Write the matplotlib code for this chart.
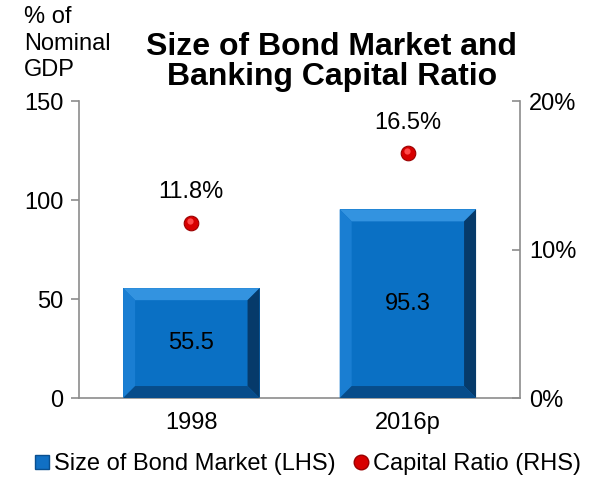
import matplotlib
matplotlib.use("Agg")
import matplotlib.pyplot as plt
from matplotlib.patches import Polygon
from matplotlib.lines import Line2D
import numpy as np

plt.rcParams['font.family'] = ['Liberation Sans', 'DejaVu Sans']

categories = ["1998", "2016p"]
bond_market = [55.5, 95.3]          # % of nominal GDP (LHS)
capital_ratio = [11.8, 16.5]        # % (RHS)
left_ticks = [0, 50, 100, 150]
right_ticks = [0, 10, 20]

W, H = 601, 479
fig = plt.figure(figsize=(W / 100, H / 100), dpi=100)
ax = fig.add_axes([0.131, 0.169, 0.735, 0.620])
ax2 = ax.twinx()

x = np.arange(len(categories))
bars = ax.bar(x, bond_market, width=0.63, color="#0a70c4", zorder=2)

ax.set_xlim(-0.52, 1.52)
ax.set_ylim(0, 150)
ax2.set_ylim(0, 20)
ax.set_yticks(left_ticks)
ax2.set_yticks(right_ticks)
ax2.set_yticklabels([f"{t}%" for t in right_ticks])
ax.set_xticks(x)
ax.set_xticklabels(categories)

fs = 17
spine_col = "#8c8c8c"
for a in (ax, ax2):
    for s in a.spines.values():
        s.set_color(spine_col)
        s.set_linewidth(1.2)
    a.spines['top'].set_visible(False)
ax.spines['right'].set_visible(False)
ax2.spines['left'].set_visible(False)
ax2.spines['bottom'].set_visible(False)
ax.tick_params(axis='y', direction='out', length=6, width=1.2, color=spine_col, labelsize=fs, pad=5)
ax.tick_params(axis='x', length=0, labelsize=fs, pad=10)
ax2.tick_params(axis='y', direction='in', length=6, width=1.2, color=spine_col, labelsize=fs, pad=6)

# bevelled edges on each bar, built in pixel space from the bar extents
fig.canvas.draw()
bev = 12
for b in bars:
    (x0, y0), (x1, y1) = ax.transData.transform([(b.get_x(), 0), (b.get_x() + b.get_width(), b.get_height())])
    inner = [(x0 + bev, y0 + bev), (x1 - bev, y0 + bev), (x1 - bev, y1 - bev), (x0 + bev, y1 - bev)]
    outer = [(x0, y0), (x1, y0), (x1, y1), (x0, y1)]
    sides = [
        ([outer[3], outer[2], inner[2], inner[3]], "#3393e0"),   # top
        ([outer[0], outer[3], inner[3], inner[0]], "#1a7ed2"),   # left
        ([outer[1], outer[2], inner[2], inner[1]], "#063a6a"),   # right
        ([outer[0], outer[1], inner[1], inner[0]], "#074c8a"),   # bottom
    ]
    for pts, c in sides:
        ax.add_patch(Polygon(pts, closed=True, facecolor=c, edgecolor="none",
                             transform=None, zorder=3))
    ax.text(b.get_x() + b.get_width() / 2, b.get_height() / 2, f"{b.get_height():.1f}",
            ha="center", va="center", fontsize=fs, color="black", zorder=5)

# capital ratio as shaded red spheres
ax2.plot(x, capital_ratio, linestyle="none", marker="o", markersize=10.5,
         markerfacecolor="#d80000", markeredgecolor="#9a0000", markeredgewidth=0.8, zorder=4)
ax2.plot(x - 0.005, np.array(capital_ratio) + 0.12, linestyle="none", marker="o", markersize=4.5,
         markerfacecolor="#ff4a4a", markeredgecolor="none", zorder=5)
for xi, v in zip(x, capital_ratio):
    ax2.annotate(f"{v}%", (xi, v), xytext=(0, 14), textcoords="offset points",
                 ha="center", va="bottom", fontsize=fs)

fig.text(0.552, 0.934, "Size of Bond Market and\nBanking Capital Ratio", ha="center", va="top",
         fontsize=23, fontweight="bold", linespacing=1.0)
fig.text(0.040, 0.988, "% of\nNominal\nGDP", ha="left", va="top", fontsize=fs, linespacing=1.28)

handles = [
    Line2D([], [], linestyle="none", marker="s", markersize=9.5, markerfacecolor="#1170c4",
           markeredgecolor="#0a4f8f"),
    Line2D([], [], linestyle="none", marker="o", markersize=10.5, markerfacecolor="#d80000",
           markeredgecolor="#9a0000"),
]
fig.legend(handles, ["Size of Bond Market (LHS)", "Capital Ratio (RHS)"], loc="center left",
           bbox_to_anchor=(30 / W, 1 - 464 / H), ncol=2, frameon=False, fontsize=fs,
           handletextpad=0.0, columnspacing=0.6, handlelength=1.0, borderpad=0, borderaxespad=0)

fig.savefig("out.png", dpi=100)
